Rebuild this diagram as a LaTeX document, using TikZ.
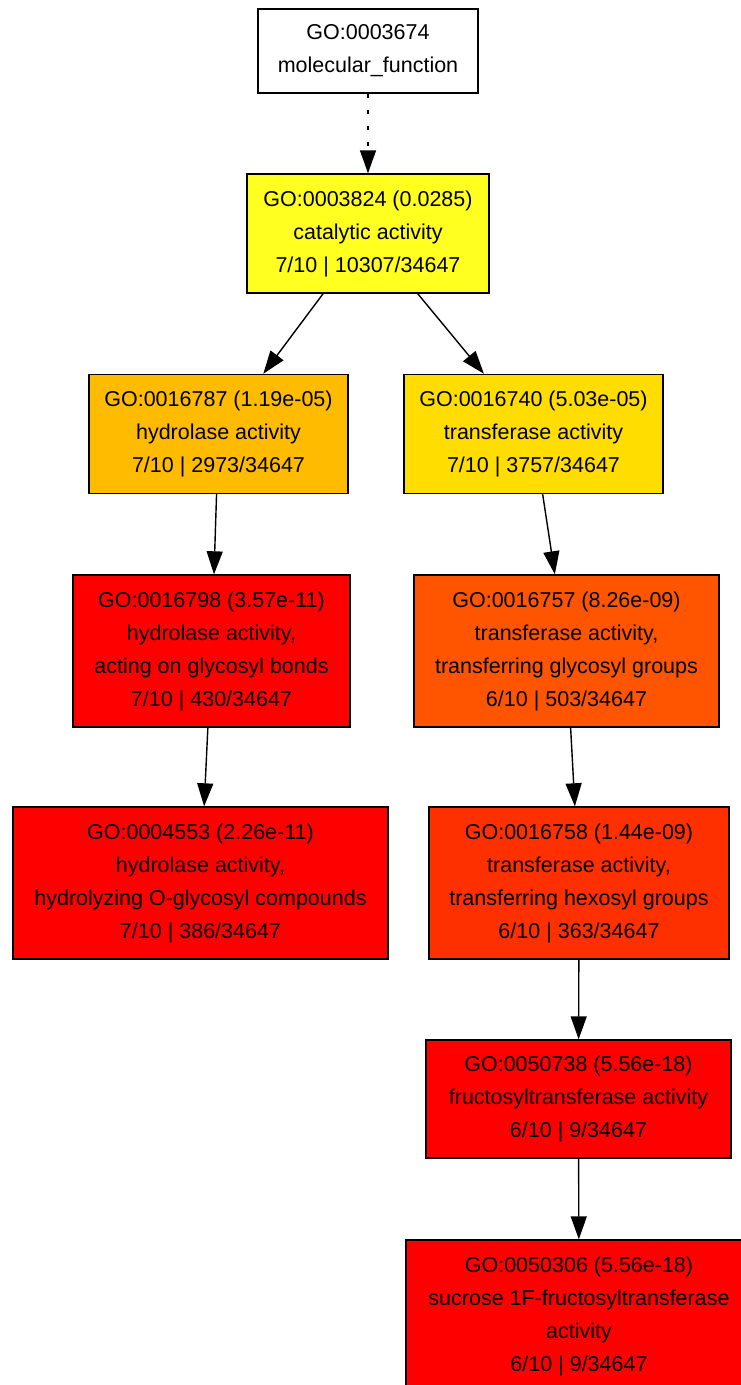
\documentclass[tikz,border=0pt]{standalone}
\usepackage{fontspec}
\setmainfont{Liberation Sans}
\usetikzlibrary{arrows.meta}

\definecolor{catyellow}{HTML}{FFFF20}
\definecolor{hydorange}{HTML}{FFBB00}
\definecolor{tragold}{HTML}{FFDD00}
\definecolor{glyorange}{HTML}{FF5500}
\definecolor{hexred}{HTML}{FF3000}
\definecolor{sigred}{HTML}{FF0000}

\tikzset{
  goterm/.style={draw=black, line width=1.4pt, rectangle, align=center, inner sep=0pt,
    font=\fontsize{21.5}{33}\selectfont},
  isa/.style={line width=1.4pt, -{Triangle[length=23pt,width=16pt]}},
}

\begin{document}
\begin{tikzpicture}[x=1pt,y=-1pt]

\useasboundingbox (0,0) rectangle (741,1385);
\clip (0,0) rectangle (741,1385);

\node[goterm, fill=white, minimum width=220pt, minimum height=84pt] (mf) at (368,51)
  {GO:0003674\\molecular\_function};
\node[goterm, fill=catyellow, minimum width=242pt, minimum height=119pt] (cat) at (368,233.5)
  {GO:0003824 (0.0285)\\catalytic activity\\7/10 | 10307/34647};
\node[goterm, fill=hydorange, minimum width=259pt, minimum height=119pt] (hyd) at (218.5,434)
  {GO:0016787 (1.19e-05)\\hydrolase activity\\7/10 | 2973/34647};
\node[goterm, fill=tragold, minimum width=259pt, minimum height=119pt] (tra) at (533.5,434)
  {GO:0016740 (5.03e-05)\\transferase activity\\7/10 | 3757/34647};
\node[goterm, fill=sigred, minimum width=277pt, minimum height=152pt] (hydgly) at (211.5,651)
  {GO:0016798 (3.57e-11)\\hydrolase activity,\\acting on glycosyl bonds\\7/10 | 430/34647};
\node[goterm, fill=glyorange, minimum width=305pt, minimum height=152pt] (tragly) at (566.5,651)
  {GO:0016757 (8.26e-09)\\transferase activity,\\transferring glycosyl groups\\6/10 | 503/34647};
\node[goterm, fill=sigred, minimum width=375pt, minimum height=152pt] (hydogly) at (200.5,883)
  {GO:0004553 (2.26e-11)\\hydrolase activity,\\hydrolyzing O-glycosyl compounds\\7/10 | 386/34647};
\node[goterm, fill=hexred, minimum width=300pt, minimum height=152pt] (trahex) at (579,883)
  {GO:0016758 (1.44e-09)\\transferase activity,\\transferring hexosyl groups\\6/10 | 363/34647};
\node[goterm, fill=sigred, minimum width=305pt, minimum height=118pt] (fru) at (578.5,1099)
  {GO:0050738 (5.56e-18)\\fructosyltransferase activity\\6/10 | 9/34647};
\node[goterm, fill=sigred, minimum width=346pt, minimum height=152pt] (suc) at (579,1316)
  {GO:0050306 (5.56e-18)\\sucrose 1F-fructosyltransferase\\activity\\6/10 | 9/34647};

\draw[isa, dash pattern=on 4pt off 12pt] (mf) -- (cat);
\draw[isa] (cat) -- (hyd);
\draw[isa] (cat) -- (tra);
\draw[isa] (hyd) -- (hydgly);
\draw[isa] (tra) -- (tragly);
\draw[isa] (hydgly) -- (hydogly);
\draw[isa] (tragly) -- (trahex);
\draw[isa] (trahex) -- (fru);
\draw[isa] (fru) -- (suc);

\end{tikzpicture}
\end{document}
